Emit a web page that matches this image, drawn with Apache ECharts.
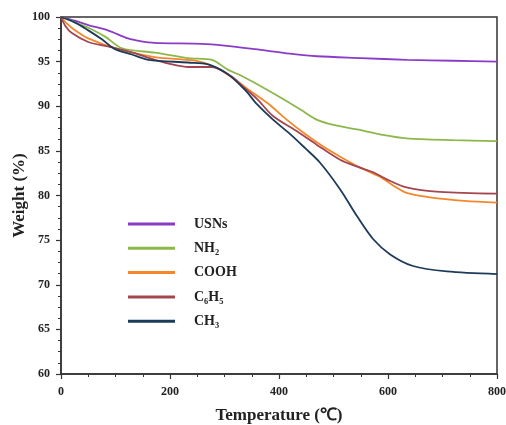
<!DOCTYPE html>
<html><head><meta charset="utf-8">
<script src="https://cdn.jsdelivr.net/npm/echarts@6/dist/echarts.min.js"></script>
<style>html,body{margin:0;padding:0;background:#fff}#c{width:506px;height:425px}</style>
</head><body><div id="c"></div>
<script>
var seriesNames = ['USNs', 'NH₂', 'COOH', 'C₆H₅', 'CH₃'];
var xTicks = [0, 200, 400, 600, 800];
var yTicks = [60, 65, 70, 75, 80, 85, 90, 95, 100];
var usns = [[0,100],[25,99.6],[50,99.1],[86,98.5],[123,97.6],[145,97.3],[172,97.1],[259,97.0],[300,96.8],[356,96.4],[420,95.9],[470,95.6],[550,95.4],[635,95.2],[720,95.1],[800,95.0]];
var nh2 = [[0,100],[30,99.3],[50,98.8],[81,97.8],[112,96.5],[172,96.0],[233,95.4],[277,95.2],[306,94.1],[328,93.5],[356,92.6],[402,91.0],[440,89.6],[469,88.5],[500,87.9],[543,87.4],[590,86.8],[634,86.4],[720,86.2],[800,86.1]];
var cooh = [[0,100],[12,99.2],[26,98.5],[50,97.6],[99,96.5],[172,95.5],[246,95.1],[283,94.4],[319,93.0],[341,92.0],[380,90.3],[414,88.5],[450,86.8],[481,85.5],[543,83.3],[585,82.1],[610,81.1],[634,80.3],[677,79.8],[740,79.4],[800,79.2]];
var c6h5 = [[0,100],[8,99.0],[20,98.2],[50,97.2],[86,96.7],[132,96.0],[172,95.2],[210,94.6],[233,94.4],[277,94.4],[314,93.3],[332,92.3],[360,90.8],[389,88.9],[430,87.3],[469,85.7],[512,84.0],[545,83.2],[573,82.6],[598,81.8],[634,80.9],[695,80.4],[800,80.2]];
var ch3 = [[0,100],[25,99.4],[50,98.5],[75,97.5],[99,96.4],[130,95.8],[160,95.2],[233,94.9],[270,94.7],[306,93.6],[338,91.8],[360,90.2],[389,88.5],[420,86.9],[448,85.3],[475,83.7],[512,80.7],[543,77.7],[573,75.1],[604,73.4],[646,72.1],[708,71.5],[800,71.2]];
var allData = [usns, nh2, cooh, c6h5, ch3];
var colors = ['#8a3cc8', '#8cb84a', '#f5862a', '#a3464f', '#1c3a5a'];

var font = '"Liberation Serif", "Times New Roman", serif';
var chart = echarts.init(document.getElementById('c'));
chart.setOption({
  animation: false,
  color: colors,
  grid: {left: 61, right: 9, top: 17, bottom: 51, outerBoundsMode: 'none', containLabel: false,
    show: true, borderColor: '#333', borderWidth: 1.5},
  legend: {
    orient: 'vertical', left: 123, top: 212,
    icon: 'rect', itemWidth: 47, itemHeight: 3, itemGap: 10.3,
    data: seriesNames,
    textStyle: {fontFamily: font, fontWeight: 'bold', fontSize: 14, color: '#222', lineHeight: 14, padding: [0,0,0,14]}
  },
  xAxis: {
    type: 'value', min: 0, max: 800, interval: 200,
    name: 'Temperature (℃)', nameLocation: 'middle', nameGap: 33,
    nameTextStyle: {fontFamily: font, fontWeight: 'bold', fontSize: 17, color: '#222'},
    axisLine: {lineStyle: {color: '#333', width: 1.5}},
    axisTick: {inside: false, length: 5, lineStyle: {color: '#333', width: 1.2}},
    minorTick: {show: true, splitNumber: 4, length: 3, lineStyle: {color: '#333', width: 1}},
    splitLine: {show: false},
    axisLabel: {fontFamily: font, fontWeight: 'bold', fontSize: 12, color: '#222', margin: 12,
      formatter: function(v){ return xTicks.indexOf(v) >= 0 ? String(v) : ''; }}
  },
  yAxis: {
    type: 'value', min: 60, max: 100, interval: 5,
    name: 'Weight (%)', nameLocation: 'middle', nameGap: 33, nameMoveOverlap: false,
    nameTextStyle: {fontFamily: font, fontWeight: 'bold', fontSize: 17, color: '#222'},
    axisLine: {lineStyle: {color: '#333', width: 1.5}},
    axisTick: {inside: false, length: 5, lineStyle: {color: '#333', width: 1.2}},
    minorTick: {show: true, splitNumber: 4, length: 3, lineStyle: {color: '#333', width: 1}},
    splitLine: {show: false},
    axisLabel: {fontFamily: font, fontWeight: 'bold', fontSize: 12, color: '#222', margin: 11,
      formatter: function(v){ return yTicks.indexOf(v) >= 0 ? String(v) : ''; }}
  },
  series: seriesNames.map(function(n, i){
    return {name: n, type: 'line', data: allData[i], smooth: 0.3, showSymbol: false,
      lineStyle: {width: 1.8, color: colors[i]}, itemStyle: {color: colors[i]}};
  })
});
</script></body></html>
